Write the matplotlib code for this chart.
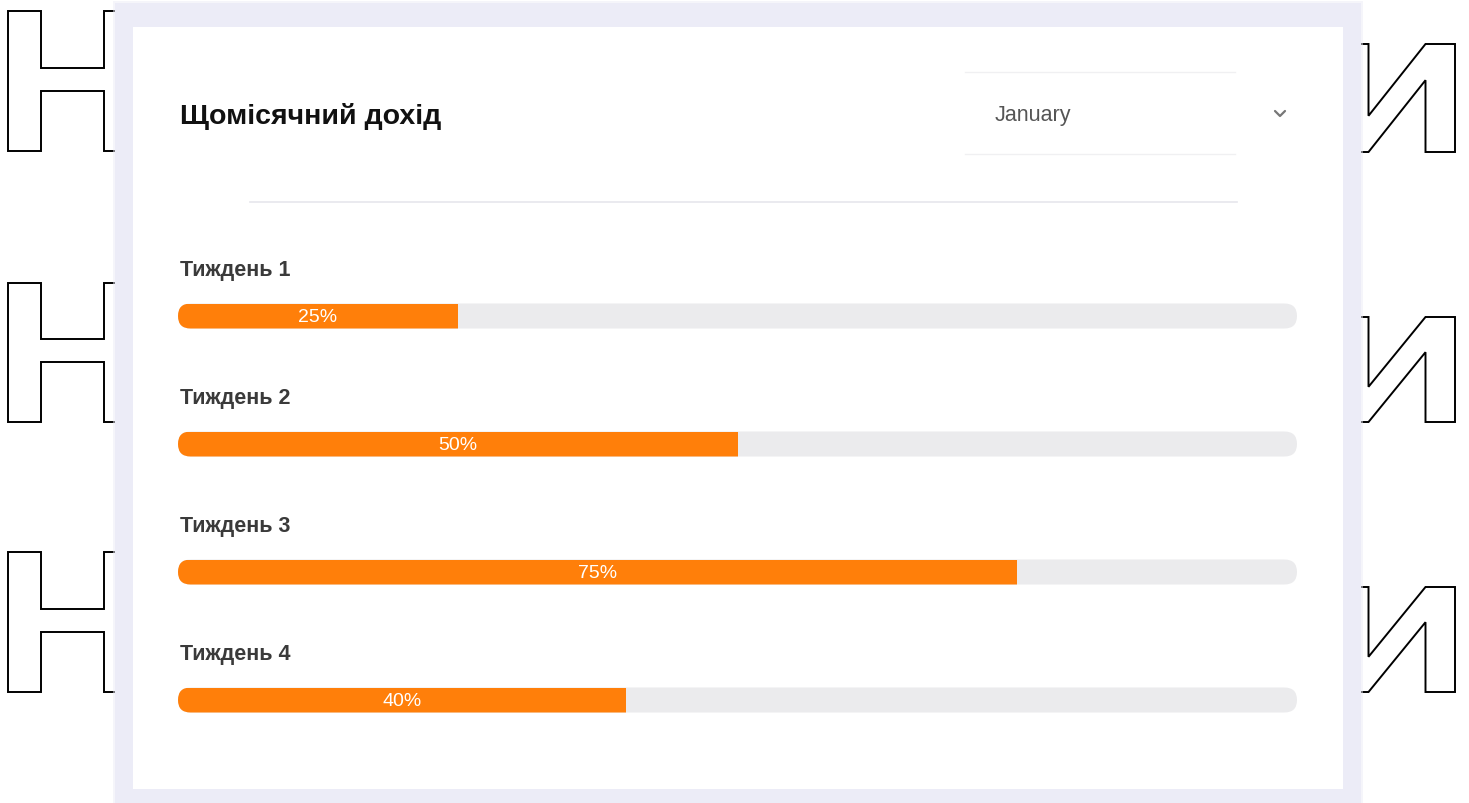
import matplotlib
matplotlib.use("Agg")
import matplotlib.pyplot as plt
from matplotlib.patches import Rectangle, FancyBboxPatch, PathPatch
from matplotlib.textpath import TextPath
from matplotlib.font_manager import FontProperties
from matplotlib.transforms import Affine2D

# ── data ──────────────────────────────────────────────────────────────────────
TITLE = "Щомісячний дохід"
MONTH = "January"
weeks = ["Тиждень 1", "Тиждень 2", "Тиждень 3", "Тиждень 4"]
values = [25, 50, 75, 40]

# ── style ─────────────────────────────────────────────────────────────────────
W, H = 1469, 804
ORANGE = "#FF7F0A"
TRACK = "#EBEBED"
LAVENDER = "#ECECF7"
FONT = "Liberation Sans"

fig = plt.figure(figsize=(W / 100, H / 100), dpi=100)
bg = fig.add_axes([0, 0, 1, 1])
bg.set_xlim(0, W)
bg.set_ylim(H, 0)
bg.axis("off")


def glyph(ax, ch, box):
    # outlined decorative letter squeezed into a pixel box
    x0, y0, x1, y1 = box
    tp = TextPath((0, 0), ch, size=100,
                  prop=FontProperties(family="Roboto", weight="bold"))
    ext = tp.get_extents()
    t = (Affine2D().translate(-ext.x0, -ext.y0)
         .scale((x1 - x0) / ext.width, -(y1 - y0) / ext.height)
         .translate(x0, y1))
    ax.add_patch(PathPatch(t.transform_path(tp), fc="white", ec="black",
                           lw=1.4, zorder=1))


for box in [(8, 12, 137, 152), (8, 284, 137, 423), (8, 553, 137, 693)]:
    glyph(bg, "Н", box)
for box in [(1339, 45, 1455, 153), (1339, 318, 1455, 423), (1339, 588, 1455, 693)]:
    glyph(bg, "И", box)

# card with soft lavender shadow
for i, a in enumerate([0.5, 1.0]):
    d = 2 - 2 * i
    bg.add_patch(Rectangle((115 - d, 4 - d), 1246 + 2 * d, 820, fc=LAVENDER,
                           ec="none", alpha=a, zorder=2))
bg.add_patch(Rectangle((133, 28), 1210, 762, fc="white", ec="none", zorder=3))

bg.text(180, 116, TITLE, fontsize=20.5, fontweight="bold", family=FONT,
        color="#111111", va="center", ha="left", zorder=4)

# dropdown
bg.plot([965, 1235], [73, 73], color="#F0F0F2", lw=1, zorder=4)
bg.plot([965, 1235], [155, 155], color="#F0F0F2", lw=1, zorder=4)
bg.text(995, 115, MONTH, fontsize=15.5, family=FONT, color="#555555",
        va="center", ha="left", zorder=4)
bg.plot([1275, 1280, 1285], [112, 117, 112], color="#777777", lw=1.6,
        solid_capstyle="round", zorder=4)

# divider
bg.plot([250, 1237], [203, 203], color="#E6E6EC", lw=1.2, zorder=4)

# ── progress bars ─────────────────────────────────────────────────────────────
BX0, BX1 = 178, 1297
ax = fig.add_axes([BX0 / W, 0, (BX1 - BX0) / W, 1])
ax.set_xlim(0, 100)
ax.set_ylim(H, 0)
ax.axis("off")

BAR_H = 25
px_per_unit = (BX1 - BX0) / 100
r = (BAR_H / 2) / px_per_unit
centers = [317 + 128 * i for i in range(len(weeks))]

for yc, name, v in zip(centers, weeks, values):
    track = FancyBboxPatch((0, yc - BAR_H / 2), 100, BAR_H,
                           boxstyle=f"round,pad=0,rounding_size={r}",
                           mutation_aspect=px_per_unit,
                           fc=TRACK, ec="none", zorder=1)
    ax.add_patch(track)
    bars = ax.barh([yc], [v], height=BAR_H, left=0, color=ORANGE, zorder=2)
    for b in bars:
        b.set_clip_path(track)
    ax.text(v / 2, yc + 1, f"{v}%", fontsize=14, family=FONT, color="white",
            ha="center", va="center", zorder=3)
    ax.text(0.2, yc - 46, name, fontsize=15.5, fontweight="bold", family=FONT,
            color="#3A3A3A", ha="left", va="center", zorder=3)

fig.savefig("out.png", dpi=100)
